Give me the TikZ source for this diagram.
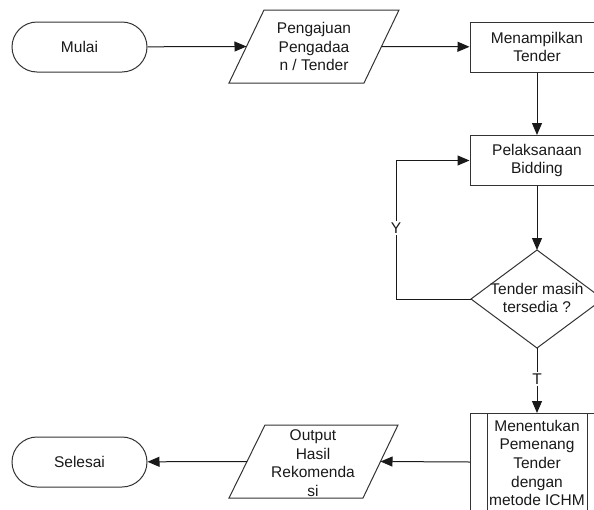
\documentclass[tikz,border=0pt]{standalone}
\usepackage{fontspec}
\setmainfont{Liberation Sans}
\usetikzlibrary{arrows.meta,calc}
\begin{document}
\begin{tikzpicture}[x=1pt,y=-1pt,
  every node/.style={font=\fontsize{15.5}{18.6}\selectfont, text=black!90},
  term/.style={draw=black!80, rounded corners=25pt, minimum width=135pt, minimum height=50pt, line width=1pt},
  proc/.style={draw=black!80, minimum width=134pt, minimum height=50pt, line width=1pt, align=center},
  txt/.style={align=center, inner sep=0pt},
  shp/.style={line width=1pt, draw=black!80},
  line/.style={line width=1pt, draw=black!90},
  arr/.style={line, -{Triangle[length=12pt,width=10pt]}},
  lbl/.style={fill=white, inner sep=2pt}
]
\useasboundingbox (0,0) rectangle (594,509);
\clip (0,0) rectangle (594,509);

% Start
\node[term] (start) at (79.5,47) {Mulai};

% Input parallelogram
\node[txt] (in) at (314,46.5) {Pengajuan\\Pengadaa\\n / Tender};
\draw[shp] (229,83) -- (264,10) -- (399,10) -- (364,83) -- cycle;
\coordinate (inW) at (246.5,46.5);
\coordinate (inE) at (381.5,46.5);

% Process boxes
\node[proc] (show) at (537,47) {Menampilkan\\Tender};
\node[proc] (bid) at (537,160.5) {Pelaksanaan\\Bidding};

% Decision
\node[txt] (dec) at (537,298) {Tender masih\\tersedia ?};
\draw[shp] (537,250) -- (603,299) -- (537,348) -- (471,299) -- cycle;
\coordinate (decN) at (537,250);
\coordinate (decW) at (471,299);
\coordinate (decS) at (537,348);
\coordinate (loopc) at (396,299);

% Predefined process
\node[txt] (icm) at (537,463) {Menentukan\\Pemenang\\Tender\\dengan\\metode ICHM};
\draw[shp] (470,413) rectangle (604,515);
\draw[shp] (487,413) -- (487,515);
\draw[shp] (587,413) -- (587,515);
\coordinate (icmN) at (537,413);
\coordinate (icmW) at (470,462);

% Output parallelogram
\node[txt] (out) at (313,463) {Output\\Hasil\\Rekomenda\\si};
\draw[shp] (229,498) -- (265,425) -- (398,425) -- (363,498) -- cycle;
\coordinate (outE) at (380.5,461.5);
\coordinate (outW) at (247,461.5);

% End
\node[term] (end) at (79.5,462) {Selesai};

% Connectors
\draw[arr] (start) -- (inW);
\draw[arr] (inE) -- (show);
\draw[arr] (show) -- (bid);
\draw[arr] (bid) -- (decN);
\draw[arr] (decW) -- (loopc) |- (bid.west);
\draw[arr] (decS) -- (icmN);
\draw[arr] (icmW) -- (outE);
\draw[arr] (outW) -- (end);
\node[lbl] (ylab) at (396,228) {Y};
\node[lbl] (tlab) at (537,379) {T};
\end{tikzpicture}
\end{document}
